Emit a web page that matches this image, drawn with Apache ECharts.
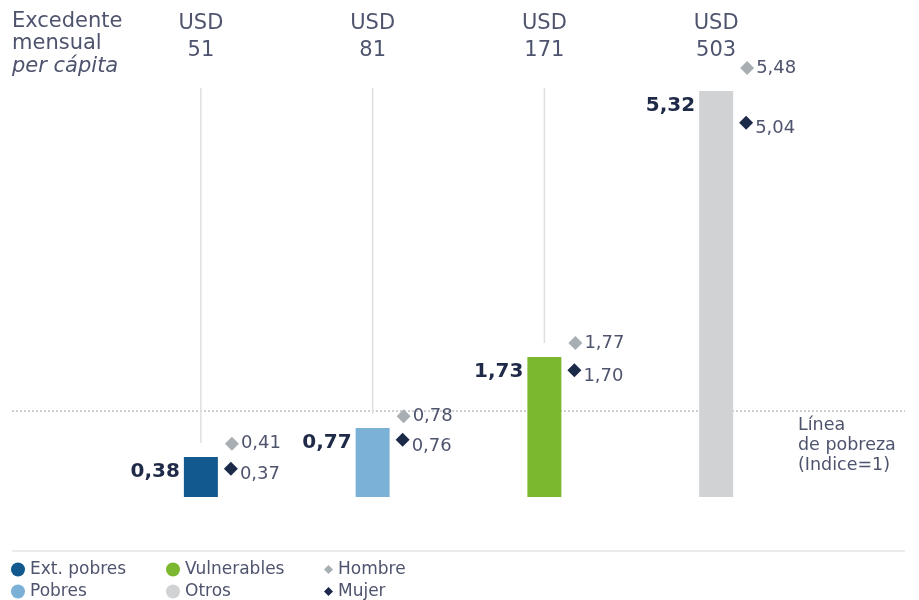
<!DOCTYPE html>
<html>
<head>
<meta charset="utf-8">
<script src="https://cdn.jsdelivr.net/npm/echarts@6/dist/echarts.min.js"></script>
<style>html,body{margin:0;padding:0;background:#fff;}#c{width:919px;height:600px;}</style>
</head>
<body>
<div id="c"></div>
<script>
// ---- data ----
const categories = ['USD\n51', 'USD\n81', 'USD\n171', 'USD\n503'];
const groupNames = ['Ext. pobres', 'Pobres', 'Vulnerables', 'Otros'];
const groupValues = [0.38, 0.77, 1.73, 5.32];
const hombreValues = [0.41, 0.78, 1.77, 5.48];
const mujerValues = [0.37, 0.76, 1.70, 5.04];
const povertyLineValue = 1;
const povertyLabel = 'Línea\nde pobreza\n(Indice=1)';

// ---- styles ----
const FONT = 'DejaVu Sans';
const TEXT = '#4f546e';
const DARK = '#1f2a48';
const groupColors = ['#11598f', '#7bb1d6', '#7cb82f', '#d0d2d4'];
const Y_MIN = -0.16, Y_MAX = 5.36;
const fmt = v => v.toFixed(2).replace('.', ',');

const chart = echarts.init(document.getElementById('c'), null, {renderer: 'canvas'});

const barSeries = groupNames.map((name, j) => ({
  name: name,
  type: 'custom',
  itemStyle: {color: groupColors[j]},
  encode: {x: 0, y: 1},
  data: [[j, groupValues[j]]],
  z: 3,
  renderItem: function (params, api) {
    const i = api.value(0), v = api.value(1);
    const top = api.coord([i, v]);
    const base = api.coord([i, Y_MIN]);
    const w = 34;
    return {
      type: 'group',
      children: [
        {type: 'rect', shape: {x: top[0] - w / 2, y: top[1], width: w, height: base[1] - top[1]},
         style: {fill: groupColors[j]}},
        {type: 'text', x: top[0] - w / 2 - 4, y: top[1] + 15,
         style: {text: fmt(v), align: 'right', verticalAlign: 'middle',
                 font: 'bold 20px "' + FONT + '"', fill: DARK}}
      ]
    };
  }
}));

const gridLineSeries = {
  name: 'guides',
  type: 'custom',
  encode: {x: 0, y: 1},
  data: groupValues.map((v, i) => [i, v]),
  z: 1,
  silent: true,
  renderItem: function (params, api) {
    const i = api.value(0), v = api.value(1);
    const top = api.coord([i, v]);
    const y0 = params.coordSys.y;
    const y1 = top[1] - 14;
    if (y1 <= y0) return null;
    return {type: 'line', shape: {x1: top[0], y1: y0, x2: top[0], y2: y1},
            style: {stroke: '#dedfe2', lineWidth: 1.5}};
  }
};

const povertySeries = {
  name: 'poverty',
  type: 'custom',
  encode: {x: 0, y: 1},
  data: [[0, povertyLineValue]],
  z: 0,
  silent: true,
  renderItem: function (params, api) {
    const p = api.coord([0, api.value(1)]);
    return {
      type: 'group',
      children: [
        {type: 'line', shape: {x1: 12, y1: p[1], x2: 905, y2: p[1]},
         style: {stroke: '#a0a0a0', lineWidth: 1, lineDash: [2, 2]}},
        {type: 'text', x: 798, y: p[1] + 4,
         style: {text: povertyLabel, align: 'left', verticalAlign: 'top',
                 font: '17.5px "' + FONT + '"', lineHeight: 20, fill: TEXT}}
      ]
    };
  }
};

const markerLabel = {
  show: true, position: 'right', distance: 2,
  formatter: p => fmt(p.value[1]),
  fontFamily: FONT, fontSize: 18, color: TEXT
};

const legendCommon = {
  top: 561, height: 44, padding: 0, orient: 'vertical', itemGap: 5, itemTextGap: 5,
  textStyle: {fontFamily: FONT, fontSize: 17, lineHeight: 17, color: TEXT}
};

const option = {
  animation: false,
  backgroundColor: '#fff',
  textStyle: {fontFamily: FONT},
  title: {
    left: 12, top: 10, padding: 0,
    text: '{a|Excedente}\n{a|mensual}\n{b|per cápita}',
    textStyle: {
      fontWeight: 'normal',
      rich: {
        a: {fontFamily: FONT, fontSize: 21, fontWeight: 'normal', color: TEXT, lineHeight: 22.5},
        b: {fontFamily: FONT, fontSize: 21, fontWeight: 'normal', color: TEXT, lineHeight: 22.5, fontStyle: 'italic'}
      }
    }
  },
  grid: {left: 115, right: 117, top: 88, bottom: 103},
  xAxis: {
    type: 'category',
    position: 'top',
    data: categories,
    axisLine: {show: false},
    axisTick: {show: false},
    splitLine: {show: false},
    axisLabel: {margin: 24, fontFamily: FONT, fontSize: 21, lineHeight: 27, color: TEXT, align: 'center'}
  },
  yAxis: {
    type: 'value', min: Y_MIN, max: Y_MAX, show: false, splitLine: {show: false}
  },
  legend: [
    Object.assign({}, legendCommon, {left: 11, itemWidth: 14, itemHeight: 14,
     data: [{name: 'Ext. pobres', icon: 'circle'}, {name: 'Pobres', icon: 'circle'}]}),
    Object.assign({}, legendCommon, {left: 166, itemWidth: 14, itemHeight: 14,
     data: [{name: 'Vulnerables', icon: 'circle'}, {name: 'Otros', icon: 'circle'}]}),
    Object.assign({}, legendCommon, {left: 324, itemWidth: 9, itemHeight: 9,
     data: [{name: 'Hombre', icon: 'diamond'}, {name: 'Mujer', icon: 'diamond'}]})
  ],
  graphic: [
    {type: 'line', shape: {x1: 12, y1: 551, x2: 905, y2: 551}, style: {stroke: '#e4e4e6', lineWidth: 1.5}, silent: true}
  ],
  series: [
    povertySeries,
    gridLineSeries,
    ...barSeries,
    {
      name: 'Hombre', type: 'scatter', clip: false, z: 4,
      symbol: 'diamond', symbolSize: 14, symbolOffset: [31, -11],
      itemStyle: {color: '#a8afb3', opacity: 1},
      label: markerLabel,
      data: hombreValues.map((v, i) => [i, v])
    },
    {
      name: 'Mujer', type: 'scatter', clip: false, z: 4,
      symbol: 'diamond', symbolSize: 14, symbolOffset: [30, 11],
      itemStyle: {color: '#1c2a4a', opacity: 1},
      label: Object.assign({}, markerLabel, {offset: [0, 6]}),
      data: mujerValues.map((v, i) => [i, v])
    }
  ]
};
chart.setOption(option);
</script>
</body>
</html>
